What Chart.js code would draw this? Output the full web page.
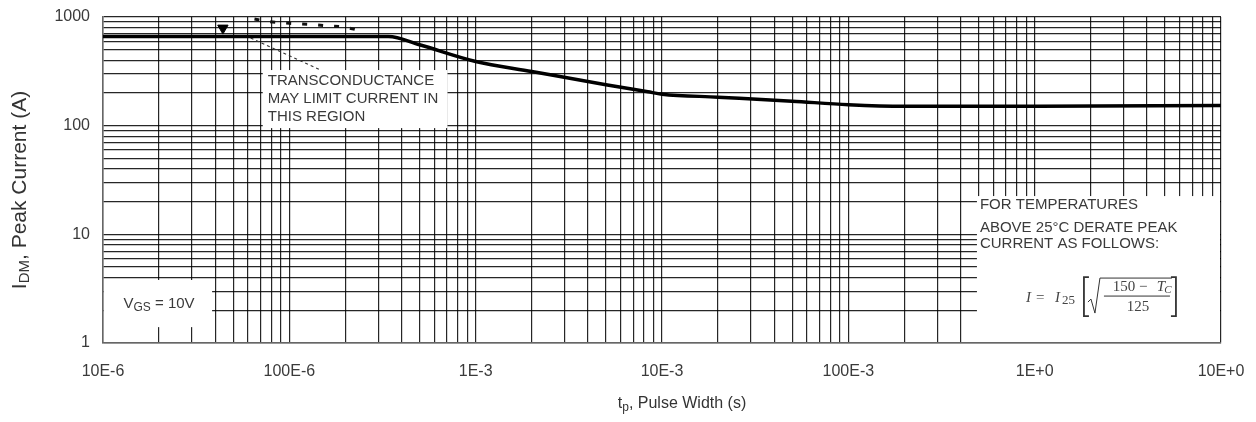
<!DOCTYPE html>
<html>
<head>
<meta charset="utf-8">
<script src="https://cdn.jsdelivr.net/npm/chart.js@4.4.1/dist/chart.umd.min.js"></script>
<style>
  html, body { margin: 0; padding: 0; background: #fff; }
</style>
</head>
<body>
<canvas id="peakChart" width="1256" height="422"></canvas>
<script>
// peak current curve
const pulseWidth = [1e-5, 3.4e-4, 5e-4, 1e-3, 2e-3, 5e-3, 8.4e-3, 1e-2, 2e-2, 5e-2, 1e-1, 2e-1, 1, 10];
const peakCurrent = [660, 660, 555, 390, 315, 238, 205, 195, 183, 168, 156, 151, 151, 153];

// dashed "transconductance limit" trace above the flat part
const gmPulse = [6.5e-5, 7.9e-5, 1.0e-4, 1.33e-4, 1.6e-4, 1.95e-4, 2.56e-4];
const gmCurrent = [957, 903, 874, 855, 830, 813, 731];

// leader line from the note to the curve, and the little triangle
const leaderPulse = [6.2e-5, 1.47e-4];
const leaderCurrent = [640, 325];
const markerPulse = [4.4e-5];
const markerCurrent = [790];

const xTickValues = [1e-5, 1e-4, 1e-3, 1e-2, 1e-1, 1, 10];
const xTickLabels = ['10E-6', '100E-6', '1E-3', '10E-3', '100E-3', '1E+0', '10E+0'];
const yTickValues = [1, 10, 100, 1000];
const yTickLabels = ['1', '10', '100', '1000'];

const toPoints = (xs, ys) => xs.map((x, i) => ({ x: x, y: ys[i] }));

// 1..9 per decade so every minor grid line is there
function logGrid(majors) {
  const out = [];
  for (let i = 0; i < majors.length - 1; i++) {
    for (let k = 1; k <= 9; k++) out.push(majors[i] * k);
  }
  out.push(majors[majors.length - 1]);
  return out;
}

function majorLabel(value, majors, labels) {
  for (let i = 0; i < majors.length; i++) {
    if (Math.abs(value / majors[i] - 1) < 1e-6) return labels[i];
  }
  return '';
}

// white note boxes (data units)
const noteBoxes = [
  { x0: 1e-5, x1: 3.85e-5, y0: 1.4, y1: 3.8 },
  { x0: 7.2e-5, x1: 7.06e-4, y0: 95, y1: 325 },
  { x0: 0.49, x1: 10, y0: 1, y1: 22.5 }
];

function boxPx(chart, b) {
  const xs = chart.scales.x, ys = chart.scales.y, a = chart.chartArea;
  const l = Math.max(xs.getPixelForValue(b.x0), a.left + 1);
  const r = Math.min(xs.getPixelForValue(b.x1), a.right - 1);
  const t = Math.max(ys.getPixelForValue(b.y1), a.top + 1);
  const bt = Math.min(ys.getPixelForValue(b.y0), a.bottom - 1);
  return { l: l, r: r, t: t, b: bt };
}

// draws text pieces one after another, centred on (cx, cy)
function richText(ctx, parts, cx, cy) {
  let w = 0;
  parts.forEach(p => { ctx.font = p.font; w += ctx.measureText(p.text).width; });
  let x = cx - w / 2;
  ctx.textBaseline = 'middle';
  ctx.textAlign = 'left';
  parts.forEach(p => {
    ctx.font = p.font;
    ctx.fillText(p.text, x, cy + (p.dy || 0));
    x += ctx.measureText(p.text).width;
  });
}

const notes = {
  id: 'notes',
  beforeDatasetsDraw(chart) {
    const ctx = chart.ctx;
    ctx.save();
    ctx.fillStyle = '#fff';
    noteBoxes.forEach(b => {
      const p = boxPx(chart, b);
      ctx.fillRect(p.l, p.t, p.r - p.l, p.b - p.t);
    });
    ctx.restore();
  },
  afterDraw(chart) {
    const ctx = chart.ctx;
    const sans = '"Liberation Sans", Arial, sans-serif';
    const serif = '"Liberation Serif", "Times New Roman", serif';
    ctx.save();
    ctx.fillStyle = '#3a3a3a';

    // VGS note
    const v = boxPx(chart, noteBoxes[0]);
    richText(ctx, [
      { text: 'V', font: '15px ' + sans },
      { text: 'GS', font: '12px ' + sans, dy: 4 },
      { text: ' = 10V', font: '15px ' + sans }
    ], (v.l + v.r) / 2 + 1, v.t + 24);

    // transconductance note
    const g = boxPx(chart, noteBoxes[1]);
    ctx.font = '15px ' + sans;
    ctx.textAlign = 'left';
    ctx.textBaseline = 'middle';
    ['TRANSCONDUCTANCE', 'MAY LIMIT CURRENT IN', 'THIS REGION'].forEach((s, i) => {
      ctx.fillText(s, g.l + 5, g.t + 11 + i * 18);
    });

    // derating note + formula
    const d = boxPx(chart, noteBoxes[2]);
    ctx.fillText('FOR TEMPERATURES', d.l + 3, d.t + 9);
    ctx.fillText('ABOVE 25\u00B0C DERATE PEAK', d.l + 3, d.t + 32);
    ctx.fillText('CURRENT AS FOLLOWS:', d.l + 3, d.t + 48);

    const fy = d.t + 102;
    ctx.fillStyle = '#444';
    ctx.font = 'italic 15px ' + serif;
    ctx.fillText('I', d.l + 49, fy);
    ctx.font = '15px ' + serif;
    ctx.fillText('=', d.l + 59, fy);
    ctx.font = 'italic 15px ' + serif;
    ctx.fillText('I', d.l + 78, fy);
    ctx.font = '13px ' + serif;
    ctx.fillText('25', d.l + 85, fy + 3);

    ctx.strokeStyle = '#333';
    ctx.lineWidth = 1.8;
    const bl = d.l + 107, br = d.l + 199, bt = fy - 21, bb = fy + 18;
    ctx.beginPath();
    ctx.moveTo(bl + 5, bt); ctx.lineTo(bl, bt); ctx.lineTo(bl, bb); ctx.lineTo(bl + 5, bb);
    ctx.moveTo(br - 5, bt); ctx.lineTo(br, bt); ctx.lineTo(br, bb); ctx.lineTo(br - 5, bb);
    ctx.stroke();
    ctx.lineWidth = 1;
    ctx.beginPath();
    ctx.moveTo(bl + 4, fy + 4); ctx.lineTo(bl + 7, fy + 1); ctx.lineTo(bl + 11, fy + 15);
    ctx.lineTo(bl + 16, bt + 1); ctx.lineTo(br - 4, bt + 1);
    ctx.moveTo(bl + 20, fy - 2); ctx.lineTo(br - 6, fy - 2);
    ctx.stroke();
    ctx.font = '15px ' + serif;
    ctx.textAlign = 'center';
    ctx.fillText('150 \u2212 ', bl + 48, fy - 11);
    ctx.font = 'italic 15px ' + serif;
    ctx.fillText('T', bl + 77, fy - 11);
    ctx.font = 'italic 11px ' + serif;
    ctx.fillText('C', bl + 84, fy - 8);
    ctx.font = '15px ' + serif;
    ctx.fillText('125', bl + 54, fy + 9);

    // axis titles
    ctx.fillStyle = '#333';
    richText(ctx, [
      { text: 't', font: '16px ' + sans },
      { text: 'p', font: '12px ' + sans, dy: 4 },
      { text: ', Pulse Width (s)', font: '16px ' + sans }
    ], 682, 404);

    ctx.translate(20, 190);
    ctx.rotate(-Math.PI / 2);
    richText(ctx, [
      { text: 'I', font: '21px ' + sans },
      { text: 'DM', font: '15px ' + sans, dy: 5 },
      { text: ', Peak Current (A)', font: '21px ' + sans }
    ], 0, 0);
    ctx.restore();
  }
};

const gridStyle = { color: 'rgba(0,0,0,0.85)', lineWidth: 1.2, drawTicks: false };
const tickFont = { family: '"Liberation Sans", Arial, sans-serif', size: 16 };

new Chart(document.getElementById('peakChart'), {
  type: 'scatter',
  data: {
    datasets: [
      {
        data: toPoints(pulseWidth, peakCurrent),
        showLine: true,
        borderColor: '#000',
        borderWidth: 3.5,
        pointRadius: 0,
        cubicInterpolationMode: 'monotone'
      },
      {
        data: toPoints(gmPulse, gmCurrent),
        showLine: true,
        borderColor: '#111',
        borderWidth: 3,
        borderDash: [5, 11],
        pointRadius: 0
      },
      {
        data: toPoints(leaderPulse, leaderCurrent),
        showLine: true,
        borderColor: '#333',
        borderWidth: 1.2,
        borderDash: [3, 3],
        pointRadius: 0
      },
      {
        data: toPoints(markerPulse, markerCurrent),
        showLine: false,
        pointStyle: 'triangle',
        rotation: 180,
        pointRadius: 6,
        backgroundColor: '#000',
        borderColor: '#000'
      }
    ]
  },
  options: {
    responsive: false,
    animation: false,
    layout: { padding: { top: 17, right: 35, left: 0, bottom: 0 } },
    plugins: { legend: { display: false }, tooltip: { enabled: false } },
    scales: {
      x: {
        type: 'logarithmic',
        min: 1e-5,
        max: 10,
        grid: gridStyle,
        border: { color: '#666', width: 1.5 },
        afterBuildTicks: s => { s.ticks = logGrid(xTickValues).map(v => ({ value: v })); },
        afterFit: s => { s.height = 79; s.paddingLeft = 0; s.paddingRight = 0; },
        ticks: {
          autoSkip: false,
          maxRotation: 0,
          padding: 19,
          color: '#3a3a3a',
          font: tickFont,
          callback: v => majorLabel(v, xTickValues, xTickLabels)
        }
      },
      y: {
        type: 'logarithmic',
        min: 1,
        max: 1000,
        grid: gridStyle,
        border: { color: '#666', width: 1.5 },
        afterBuildTicks: s => { s.ticks = logGrid(yTickValues).map(v => ({ value: v })); },
        afterFit: s => { s.width = 103; s.paddingTop = 0; s.paddingBottom = 0; },
        ticks: {
          autoSkip: false,
          padding: 13,
          color: '#3a3a3a',
          font: tickFont,
          callback: v => majorLabel(v, yTickValues, yTickLabels)
        }
      }
    }
  },
  plugins: [notes]
});
</script>
</body>
</html>
